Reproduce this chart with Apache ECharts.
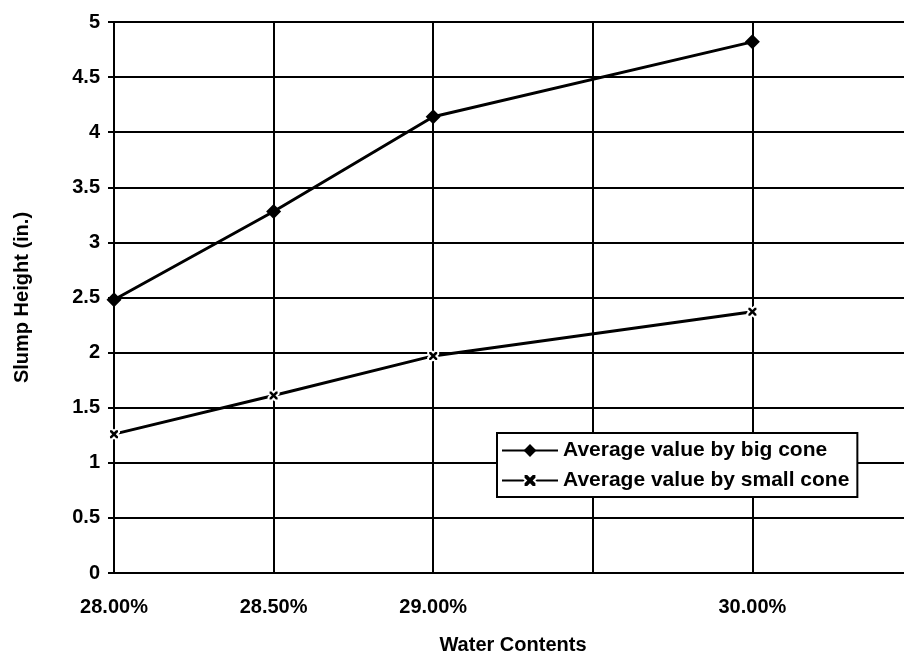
<!DOCTYPE html>
<html>
<head>
<meta charset="utf-8">
<script src="https://cdn.jsdelivr.net/npm/echarts@6/dist/echarts.min.js"></script>
<style>html,body{margin:0;padding:0;background:#fff;}#c{width:904px;height:654px;}</style>
</head>
<body>
<div id="c"></div>
<script>
const waterContents = [28.0, 28.5, 29.0, 30.0];
const bigCone = [2.48, 3.28, 4.14, 4.82];
const smallCone = [1.26, 1.61, 1.97, 2.37];
const xTicks = [28.0, 28.5, 29.0, 29.5, 30.0, 30.5];
const xTickLabels = ['28.00%', '28.50%', '29.00%', '', '30.00%', ''];
const seriesNames = ['Average value by big cone', 'Average value by small cone'];

const font = 'Liberation Sans, Arial, sans-serif';
const xSym = 'path://M0,0 L3.2,0 L5,1.8 L6.8,0 L10,0 L10,3.2 L8.2,5 L10,6.8 L10,10 L6.8,10 L5,8.2 L3.2,10 L0,10 L0,6.8 L1.8,5 L0,3.2 Z';

const chart = echarts.init(document.getElementById('c'), null, {renderer: 'canvas'});
chart.setOption({
  backgroundColor: '#fff',
  animation: false,
  grid: {left: 114, top: 22, bottom: 81, right: -8, outerBoundsMode: 'none', containLabel: false},
  xAxis: {
    type: 'value', min: 28, max: 30.5, interval: 0.5,
    name: 'Water Contents', nameLocation: 'middle', nameGap: 62,
    nameTextStyle: {fontFamily: font, fontWeight: 'bold', fontSize: 20, color: '#000'},
    axisLine: {show: true, lineStyle: {color: '#000', width: 2}},
    axisTick: {show: false},
    axisLabel: {
      margin: 24, fontFamily: font, fontWeight: 'bold', fontSize: 20, color: '#000',
      formatter: v => { const i = xTicks.findIndex(t => Math.abs(t - v) < 1e-6); return i >= 0 ? xTickLabels[i] : ''; }
    },
    splitLine: {show: true, lineStyle: {color: '#000', width: 2}}
  },
  yAxis: {
    type: 'value', min: 0, max: 5, interval: 0.5,
    name: 'Slump Height (in.)', nameLocation: 'middle', nameGap: 82,
    nameTextStyle: {fontFamily: font, fontWeight: 'bold', fontSize: 20, color: '#000'},
    axisLine: {show: true, lineStyle: {color: '#000', width: 2}},
    axisTick: {show: true, inside: false, length: 6, lineStyle: {color: '#000', width: 2}},
    axisLabel: {margin: 14, fontFamily: font, fontWeight: 'bold', fontSize: 20, color: '#000'},
    splitLine: {show: true, lineStyle: {color: '#000', width: 2}}
  },
  legend: {
    orient: 'vertical', left: 497, top: 433,
    backgroundColor: '#fff', borderColor: '#000', borderWidth: 2,
    padding: [7, 8, 6, 4], itemGap: 9, itemWidth: 56, itemHeight: 16,
    textStyle: {fontFamily: font, fontWeight: 'bold', fontSize: 21, color: '#000'},
    data: seriesNames
  },
  series: [
    {
      name: seriesNames[0], type: 'line',
      data: waterContents.map((x, i) => [x, bigCone[i]]),
      symbol: 'diamond', symbolSize: 15,
      lineStyle: {color: '#000', width: 3},
      itemStyle: {color: '#000'}
    },
    {
      name: seriesNames[1], type: 'line',
      data: waterContents.map((x, i) => [x, smallCone[i]]),
      symbol: xSym, symbolSize: 10,
      lineStyle: {color: '#000', width: 3},
      itemStyle: {color: '#000', borderColor: '#fff', borderWidth: 2}
    }
  ]
});
</script>
</body>
</html>
